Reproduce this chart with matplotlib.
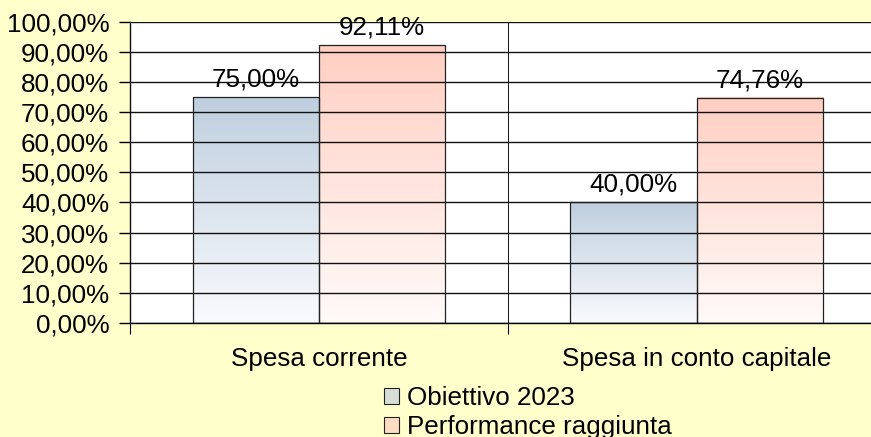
import numpy as np
import matplotlib
matplotlib.use('Agg')
import matplotlib.pyplot as plt
from matplotlib.colors import LinearSegmentedColormap
from matplotlib.patches import Patch

# Data
categories = ['Spesa corrente', 'Spesa in conto capitale']
series_names = ['Obiettivo 2023', 'Performance raggiunta']
obiettivo = [75.00, 40.00]
performance = [92.11, 74.76]
y_ticks = [0, 10, 20, 30, 40, 50, 60, 70, 80, 90, 100]

# Styling
_BG = '#FFFFCC'
_TOP = ['#BFCFDF', '#FFCFC2']
_BOT = ['#F9FAFD', '#FFFAF9']
_SWATCH = ['#D6DED6', '#FFDCC2']
BAR_W = 0.334

plt.rcParams['font.family'] = ['Liberation Sans', 'DejaVu Sans']
plt.rcParams['font.size'] = 18.7


def fmt_pct(v):
    return f'{v:.2f}%'.replace('.', ',')


fig = plt.figure(figsize=(8.71, 4.37), dpi=100, facecolor=_BG)
ax = fig.add_axes([130 / 871, 0.2609, 755.5 / 871, 0.6894])
ax.set_facecolor('white')

x = np.arange(len(categories))
grad = np.linspace(0, 1, 256).reshape(-1, 1)

for si, vals in enumerate([obiettivo, performance]):
    cmap = LinearSegmentedColormap.from_list(f'g{si}', [_BOT[si], _TOP[si]])
    offs = (si - 0.5) * BAR_W
    for xi, v in zip(x, vals):
        x0 = xi + offs - BAR_W / 2
        ax.imshow(grad, extent=[x0, x0 + BAR_W, 0, v], origin='lower',
                  aspect='auto', cmap=cmap, zorder=1)
    ax.bar(x + offs, vals, BAR_W, fill=False, edgecolor='#222222',
           lw=0.9, zorder=3)
    for xi, v in zip(x, vals):
        ax.annotate(fmt_pct(v), (xi + offs, v), xytext=(0, 4),
                    textcoords='offset points', ha='center', va='bottom',
                    zorder=5)

ax.set_xlim(-0.5, 1.5)
ax.set_ylim(0, 100)
ax.set_yticks(y_ticks)
ax.set_yticklabels([fmt_pct(t) for t in y_ticks])
ax.yaxis.grid(True, color='#111111', lw=1.0, zorder=2)
ax.set_axisbelow(False)

# category separators as major ticks, labels on minor ticks
ax.set_xticks([-0.5, 0.5, 1.5])
ax.set_xticklabels([])
ax.set_xticks(x, minor=True)
ax.set_xticklabels(categories, minor=True)
ax.xaxis.grid(True, which='major', color='#111111', lw=0.7)
ax.tick_params(axis='x', which='major', length=8, width=0.8, direction='out')
ax.tick_params(axis='x', which='minor', length=0, pad=17)
ax.tick_params(axis='y', length=8, width=1.0, pad=7)

for side in ['top', 'right']:
    ax.spines[side].set_visible(False)
ax.spines['left'].set_linewidth(1.0)
ax.spines['bottom'].set_linewidth(1.0)

handles = [Patch(facecolor=c, edgecolor='#222222', lw=0.8) for c in _SWATCH]
fig.legend(handles, series_names, loc='upper left',
           bbox_to_anchor=(384 / 871, 1 - 386 / 437), frameon=False,
           handlelength=0.58, handleheight=0.58, handletextpad=0.3,
           labelspacing=0.2, borderaxespad=0, borderpad=0)

fig.savefig('out.png', dpi=100, facecolor=_BG)
